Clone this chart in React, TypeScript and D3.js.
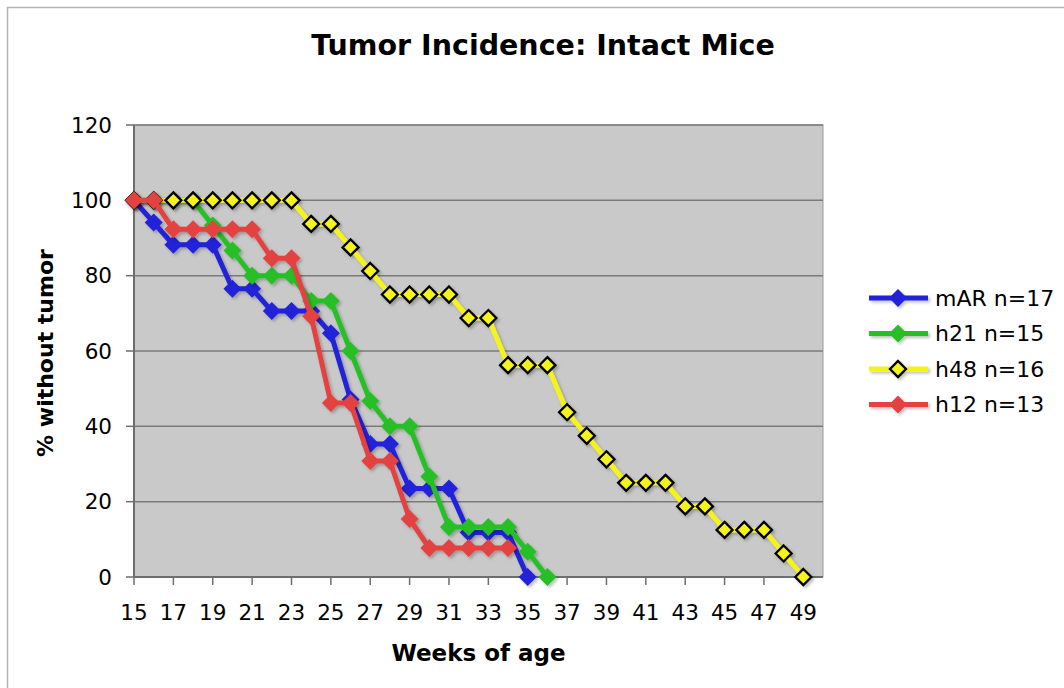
import React, { useEffect, useRef } from "react";
import * as d3 from "d3";

// weeks of age, one entry per week
const weeks: number[] = d3.range(15, 37);
const weeksH48: number[] = d3.range(15, 50);
const weeksH12: number[] = d3.range(15, 35);

// % without tumor
const mAR: number[] = [100, 94.1, 88.2, 88.2, 88.2, 76.5, 76.5, 70.6, 70.6, 70.6, 64.7, 47.1, 35.3, 35.3, 23.5, 23.5, 23.5, 11.8, 11.8, 11.8, 0];
const h21: number[] = [100, 100, 100, 100, 93.3, 86.7, 80, 80, 80, 73.3, 73.3, 60, 46.7, 40, 40, 26.7, 13.3, 13.3, 13.3, 13.3, 6.7, 0];
const h48: number[] = [100, 100, 100, 100, 100, 100, 100, 100, 100, 93.75, 93.75, 87.5, 81.25, 75, 75, 75, 75, 68.75, 68.75, 56.25, 56.25, 56.25, 43.75, 37.5, 31.25, 25, 25, 25, 18.75, 18.75, 12.5, 12.5, 12.5, 6.25, 0];
const h12: number[] = [100, 100, 92.3, 92.3, 92.3, 92.3, 92.3, 84.6, 84.6, 69.2, 46.2, 46.2, 30.8, 30.8, 15.4, 7.7, 7.7, 7.7, 7.7, 7.7];

const seriesNames = ["mAR n=17", "h21 n=15", "h48 n=16", "h12 n=13"];
const seriesColors = ["#2424d8", "#27bf27", "#f4f41a", "#e4423f"];

const yTicks = [0, 20, 40, 60, 80, 100, 120];
const xTickLabels = d3.range(15, 50, 2);

const App = () => {
  const ref = useRef<SVGSVGElement>(null);

  useEffect(() => {
    const svg = d3.select(ref.current);
    svg.selectAll("*").remove();

    const font = "DejaVu Sans, Verdana, sans-serif";
    const plot = { left: 134, right: 823, top: 125, bottom: 577 };

    const x = d3.scaleLinear().domain([15, 50]).range([plot.left, plot.right]);
    const y = d3.scaleLinear().domain([0, 120]).range([plot.bottom, plot.top]);

    // drop shadow like the Excel lines
    const defs = svg.append("defs");
    defs
      .append("filter")
      .attr("id", "shadow")
      .attr("x", "-20%")
      .attr("y", "-20%")
      .attr("width", "140%")
      .attr("height", "140%")
      .append("feDropShadow")
      .attr("dx", 2)
      .attr("dy", 2)
      .attr("stdDeviation", 1.5)
      .attr("flood-color", "#000")
      .attr("flood-opacity", 0.25);

    svg.append("rect").attr("width", 1064).attr("height", 688).attr("fill", "#fff");

    // outer chart frame
    svg
      .append("path")
      .attr("d", "M7.5,688 L7.5,7.5 L1064,7.5")
      .attr("fill", "none")
      .attr("stroke", "#b4b4b4")
      .attr("stroke-width", 1.5);

    svg
      .append("text")
      .attr("x", 543)
      .attr("y", 55)
      .attr("text-anchor", "middle")
      .attr("font-family", font)
      .attr("font-weight", "bold")
      .attr("font-size", 28.5)
      .text("Tumor Incidence: Intact Mice");

    // plot area
    svg
      .append("rect")
      .attr("x", plot.left)
      .attr("y", plot.top)
      .attr("width", plot.right - plot.left)
      .attr("height", plot.bottom - plot.top)
      .attr("fill", "#c9c9c9")
      .attr("stroke", "#9a9a9a")
      .attr("stroke-width", 1);

    svg
      .append("g")
      .selectAll("line")
      .data(yTicks.filter((t) => t > 0))
      .enter()
      .append("line")
      .attr("x1", plot.left)
      .attr("x2", plot.right)
      .attr("y1", (d) => y(d))
      .attr("y2", (d) => y(d))
      .attr("stroke", "#7a7a7a")
      .attr("stroke-width", 1.5);

    // y axis
    const yAxis = svg.append("g");
    yAxis
      .append("line")
      .attr("x1", plot.left)
      .attr("x2", plot.left)
      .attr("y1", plot.top)
      .attr("y2", plot.bottom)
      .attr("stroke", "#6e6e6e")
      .attr("stroke-width", 2);
    yAxis
      .selectAll(".ytick")
      .data(yTicks)
      .enter()
      .append("line")
      .attr("x1", plot.left - 8)
      .attr("x2", plot.left)
      .attr("y1", (d) => y(d))
      .attr("y2", (d) => y(d))
      .attr("stroke", "#6e6e6e")
      .attr("stroke-width", 1.5);
    yAxis
      .selectAll("text")
      .data(yTicks)
      .enter()
      .append("text")
      .attr("x", plot.left - 22)
      .attr("y", (d) => y(d))
      .attr("dy", "0.36em")
      .attr("text-anchor", "end")
      .attr("font-family", font)
      .attr("font-size", 21.5)
      .text((d) => d);

    // x axis
    const xAxis = svg.append("g");
    xAxis
      .append("line")
      .attr("x1", plot.left)
      .attr("x2", plot.right)
      .attr("y1", plot.bottom)
      .attr("y2", plot.bottom)
      .attr("stroke", "#6e6e6e")
      .attr("stroke-width", 2);
    xAxis
      .selectAll(".xtick")
      .data(xTickLabels)
      .enter()
      .append("line")
      .attr("x1", (d) => x(d))
      .attr("x2", (d) => x(d))
      .attr("y1", plot.bottom)
      .attr("y2", plot.bottom + 8)
      .attr("stroke", "#6e6e6e")
      .attr("stroke-width", 1.5);
    xAxis
      .selectAll("text")
      .data(xTickLabels)
      .enter()
      .append("text")
      .attr("x", (d) => x(d))
      .attr("y", 620)
      .attr("text-anchor", "middle")
      .attr("font-family", font)
      .attr("font-size", 21.5)
      .text((d) => d);

    svg
      .append("text")
      .attr("x", (plot.left + plot.right) / 2)
      .attr("y", 661)
      .attr("text-anchor", "middle")
      .attr("font-family", font)
      .attr("font-weight", "bold")
      .attr("font-size", 23)
      .text("Weeks of age");

    svg
      .append("text")
      .attr("transform", `translate(53, ${(plot.top + plot.bottom) / 2 + 2}) rotate(-90)`)
      .attr("text-anchor", "middle")
      .attr("font-family", font)
      .attr("font-weight", "bold")
      .attr("font-size", 22)
      .text("% without tumor");

    // series
    const series = [
      { name: seriesNames[0], color: seriesColors[0], xs: weeks, values: mAR, outlined: false },
      { name: seriesNames[1], color: seriesColors[1], xs: weeks, values: h21, outlined: false },
      { name: seriesNames[2], color: seriesColors[2], xs: weeksH48, values: h48, outlined: true },
      { name: seriesNames[3], color: seriesColors[3], xs: weeksH12, values: h12, outlined: false },
    ];

    const diamond = (s: number) => `M0,${-s} L${s},0 L0,${s} L${-s},0 Z`;

    const line = d3
      .line<[number, number]>()
      .x((d) => x(d[0]))
      .y((d) => y(d[1]));

    series.forEach((s) => {
      const pts: [number, number][] = s.values.map((v, i) => [s.xs[i], v]);
      const g = svg.append("g").attr("filter", "url(#shadow)");
      g.append("path")
        .attr("d", line(pts))
        .attr("fill", "none")
        .attr("stroke", s.color)
        .attr("stroke-width", 5)
        .attr("stroke-linejoin", "round");
      g.selectAll("path.marker")
        .data(pts)
        .enter()
        .append("path")
        .attr("class", "marker")
        .attr("transform", (d) => `translate(${x(d[0])},${y(d[1])})`)
        .attr("d", diamond(s.outlined ? 8 : 9))
        .attr("fill", s.color)
        .attr("stroke", s.outlined ? "#000" : "none")
        .attr("stroke-width", 2.3);
    });

    // legend
    const legend = svg.append("g");
    series.forEach((s, i) => {
      const ly = 298 + i * 35.5;
      const row = legend.append("g").attr("filter", "url(#shadow)");
      row
        .append("line")
        .attr("x1", 869)
        .attr("x2", 928)
        .attr("y1", ly)
        .attr("y2", ly)
        .attr("stroke", s.color)
        .attr("stroke-width", 5);
      row
        .append("path")
        .attr("transform", `translate(898,${ly})`)
        .attr("d", diamond(s.outlined ? 8 : 9))
        .attr("fill", s.color)
        .attr("stroke", s.outlined ? "#000" : "none")
        .attr("stroke-width", 2.3);
      legend
        .append("text")
        .attr("x", 935)
        .attr("y", ly)
        .attr("dy", "0.36em")
        .attr("font-family", font)
        .attr("font-size", 22)
        .text(s.name);
    });
  }, []);

  return (
    <svg
      ref={ref}
      width={1064}
      height={688}
      style={{ position: "absolute", left: 0, top: 0 }}
    />
  );
};

export default App;
